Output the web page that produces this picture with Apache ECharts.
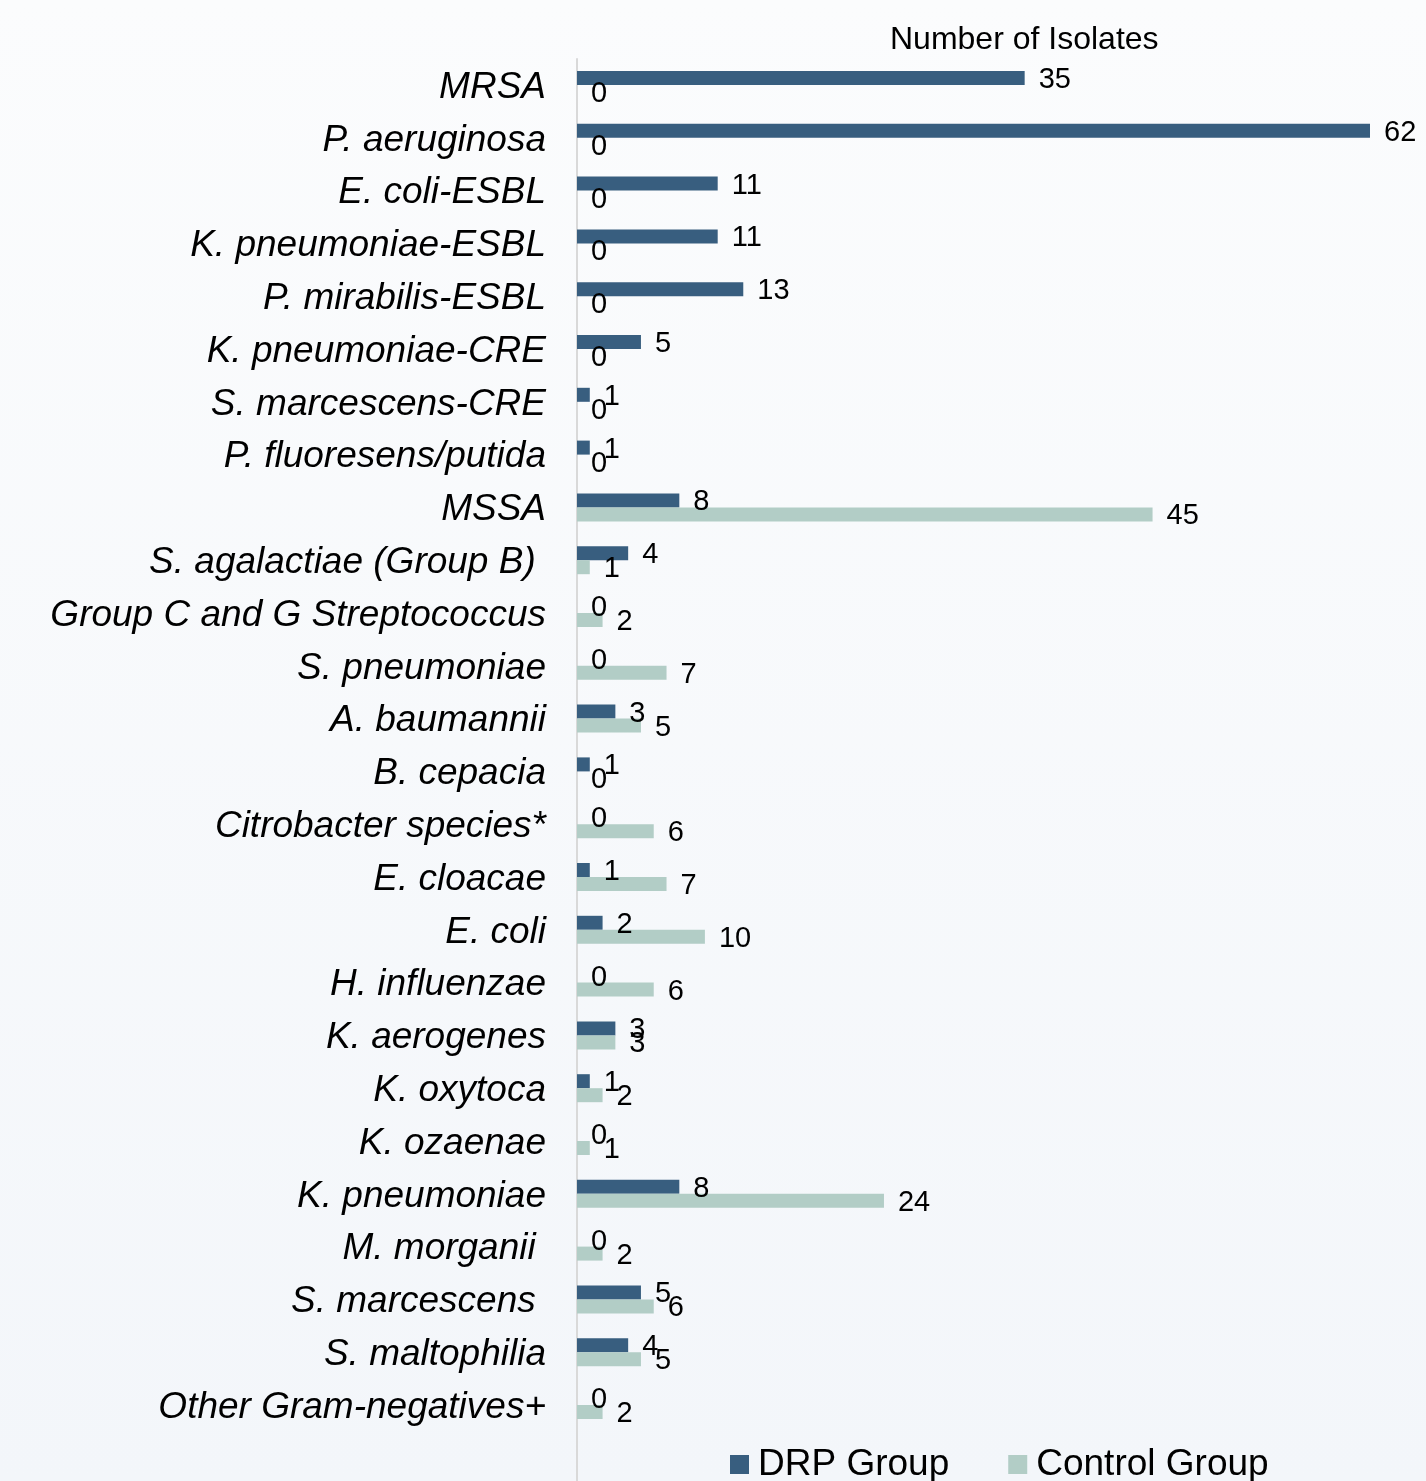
<!DOCTYPE html>
<html>
<head>
<meta charset="utf-8">
<script src="https://cdn.jsdelivr.net/npm/echarts@6/dist/echarts.min.js"></script>
<style>
html,body{margin:0;padding:0;}
#chart{width:1426px;height:1481px;}
</style>
</head>
<body>
<div id="chart"></div>
<script>
const categories = [
  'MRSA', 'P. aeruginosa', 'E. coli-ESBL', 'K. pneumoniae-ESBL', 'P. mirabilis-ESBL',
  'K. pneumoniae-CRE', 'S. marcescens-CRE', 'P. fluoresens/putida', 'MSSA',
  'S. agalactiae (Group B) ', 'Group C and G Streptococcus', 'S. pneumoniae',
  'A. baumannii', 'B. cepacia', 'Citrobacter species*', 'E. cloacae', 'E. coli',
  'H. influenzae', 'K. aerogenes', 'K. oxytoca', 'K. ozaenae', 'K. pneumoniae',
  'M. morganii ', 'S. marcescens ', 'S. maltophilia', 'Other Gram-negatives+'
];
const drpGroup = [35, 62, 11, 11, 13, 5, 1, 1, 8, 4, 0, 0, 3, 1, 0, 1, 2, 0, 3, 1, 0, 8, 0, 5, 4, 0];
const controlGroup = [0, 0, 0, 0, 0, 0, 0, 0, 45, 1, 2, 7, 5, 0, 6, 7, 10, 6, 3, 2, 1, 24, 2, 6, 5, 2];
const seriesNames = ['DRP Group', 'Control Group'];
const titleText = 'Number of Isolates';

const FONT = '"Liberation Sans", Arial, sans-serif';
const chart = echarts.init(document.getElementById('chart'));
const labelStyle = {
  show: true, position: 'right', distance: 14, offset: [0, 2],
  fontSize: 29, color: '#000', fontFamily: FONT
};
chart.setOption({
  backgroundColor: {
    type: 'linear', x: 0, y: 0, x2: 0, y2: 1,
    colorStops: [{offset: 0, color: '#fbfcfd'}, {offset: 1, color: '#f3f6fa'}]
  },
  animation: false,
  textStyle: {fontFamily: FONT},
  title: {
    text: titleText, left: 885, top: 19,
    textStyle: {fontSize: 32, fontWeight: 'normal', color: '#000', fontFamily: FONT}
  },
  legend: {
    data: seriesNames, left: 730, top: 1446, padding: 0,
    icon: 'rect', itemWidth: 19, itemHeight: 19, itemGap: 59,
    textStyle: {fontSize: 37, color: '#000', fontFamily: FONT, padding: [0, 0, 0, 4]}
  },
  grid: [
    {left: 577, top: 58.6, width: 793, height: 1372.8, outerBoundsMode: 'none', containLabel: false},
    {left: 577, top: 59, width: 793, bottom: 0, outerBoundsMode: 'none', containLabel: false}
  ],
  xAxis: [
    {type: 'value', gridIndex: 0, min: 0, max: 62, show: false},
    {type: 'value', gridIndex: 1, min: 0, max: 62, show: false}
  ],
  yAxis: [
    {
      type: 'category', gridIndex: 0, data: categories, inverse: true,
      axisLine: {show: false}, axisTick: {show: false},
      axisLabel: {
        margin: 31,
        formatter: function (v) { return '{c|' + v + '}'; },
        rich: {
          c: {fontSize: 37, fontStyle: 'italic', color: '#000', fontFamily: FONT,
              padding: [5, 0, 0, 0]}
        }
      }
    },
    {
      type: 'value', gridIndex: 1, min: 0, max: 1,
      axisLine: {show: true, lineStyle: {color: '#d9d9d9', width: 2}},
      axisTick: {show: false}, axisLabel: {show: false}, splitLine: {show: false}
    }
  ],
  series: [
    {
      name: seriesNames[0], type: 'bar', data: drpGroup,
      xAxisIndex: 0, yAxisIndex: 0,
      barWidth: 14, barGap: '0%',
      itemStyle: {color: '#385e7f'}, label: labelStyle
    },
    {
      name: seriesNames[1], type: 'bar', data: controlGroup,
      xAxisIndex: 0, yAxisIndex: 0,
      barWidth: 14, barGap: '0%',
      itemStyle: {color: '#b2cdc6'}, label: labelStyle
    }
  ]
});
</script>
</body>
</html>
